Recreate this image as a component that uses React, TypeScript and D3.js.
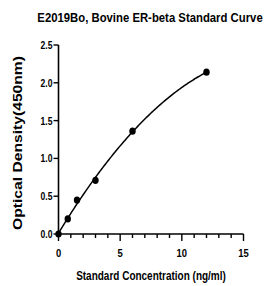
import React, { useEffect, useRef } from "react";
import * as d3 from "d3";

// standard points
const concentrations = [0, 0.75, 1.5, 3, 6, 12];
const odValues = [0, 0.2, 0.45, 0.71, 1.36, 2.14];

const xTicks = [0, 5, 10, 15];
const yTicks = [0, 0.5, 1.0, 1.5, 2.0, 2.5];

const titleText = "E2019Bo, Bovine ER-beta Standard Curve";
const xLabel = "Standard Concentration (ng/ml)";
const yLabel = "Optical Density(450nm)";

// quadratic least squares fit, used for the standard curve line
function quadFit(xs: number[], ys: number[]) {
  let s0 = 0, s1 = 0, s2 = 0, s3 = 0, s4 = 0, t0 = 0, t1 = 0, t2 = 0;
  xs.forEach((x, i) => {
    const y = ys[i];
    s0 += 1; s1 += x; s2 += x * x; s3 += x * x * x; s4 += x * x * x * x;
    t0 += y; t1 += x * y; t2 += x * x * y;
  });
  const m = [
    [s0, s1, s2, t0],
    [s1, s2, s3, t1],
    [s2, s3, s4, t2],
  ];
  for (let i = 0; i < 3; i++) {
    for (let k = i + 1; k < 3; k++) {
      const f = m[k][i] / m[i][i];
      for (let j = i; j < 4; j++) m[k][j] -= f * m[i][j];
    }
  }
  const c = [0, 0, 0];
  for (let i = 2; i >= 0; i--) {
    let s = m[i][3];
    for (let j = i + 1; j < 3; j++) s -= m[i][j] * c[j];
    c[i] = s / m[i][i];
  }
  return (x: number) => c[0] + c[1] * x + c[2] * x * x;
}

export default function App() {
  const svgRef = useRef<SVGSVGElement>(null);
  const width = 271;
  const height = 286;

  useEffect(() => {
    const svg = d3.select(svgRef.current);
    svg.selectAll("*").remove();

    const xScale = d3.scaleLinear().domain([0, 15]).range([58.5, 243.5]);
    const yScale = d3.scaleLinear().domain([0, 2.5]).range([234, 45]);

    const font = "'Liberation Sans', Arial, sans-serif";
    const g = svg.append("g");

    // title (narrowed with a horizontal scale, like the condensed original)
    g.append("text")
      .attr("transform", "translate(150,22) scale(0.84,1)")
      .attr("text-anchor", "middle")
      .attr("font-family", font)
      .attr("font-weight", "bold")
      .attr("font-size", 13.5)
      .text(titleText);

    // x axis
    const xAxis = g.append("g").attr("transform", `translate(0,${yScale(0)})`);
    xAxis.append("line")
      .attr("x1", xScale(0)).attr("x2", xScale(15))
      .attr("stroke", "#000").attr("stroke-width", 1.6);
    d3.range(0, 16).forEach((v) => {
      const major = v % 5 === 0;
      xAxis.append("line")
        .attr("x1", xScale(v)).attr("x2", xScale(v))
        .attr("y1", 0).attr("y2", major ? 7 : 4)
        .attr("stroke", "#000").attr("stroke-width", 1.4);
    });
    xTicks.forEach((v) => {
      xAxis.append("text")
        .attr("transform", `translate(${xScale(v)},23) scale(0.82,1)`)
        .attr("text-anchor", "middle")
        .attr("font-family", font)
        .attr("font-weight", "bold")
        .attr("font-size", 11.5)
        .text(v);
    });

    // y axis
    const yAxis = g.append("g").attr("transform", `translate(${xScale(0)},0)`);
    yAxis.append("line")
      .attr("y1", yScale(0)).attr("y2", yScale(2.5))
      .attr("stroke", "#000").attr("stroke-width", 1.6);
    yTicks.forEach((v) => {
      yAxis.append("line")
        .attr("x1", -5).attr("x2", 0)
        .attr("y1", yScale(v)).attr("y2", yScale(v))
        .attr("stroke", "#000").attr("stroke-width", 1.4);
      yAxis.append("text")
        .attr("transform", `translate(-6,${yScale(v) + 4}) scale(0.78,1)`)
        .attr("text-anchor", "end")
        .attr("font-family", font)
        .attr("font-weight", "bold")
        .attr("font-size", 11)
        .text(v.toFixed(1));
    });

    // axis titles
    g.append("text")
      .attr("transform", "translate(151,280) scale(0.8,1)")
      .attr("text-anchor", "middle")
      .attr("font-family", font)
      .attr("font-weight", "bold")
      .attr("font-size", 12.5)
      .text(xLabel);

    g.append("text")
      .attr("transform", "translate(22,143) rotate(-90)")
      .attr("text-anchor", "middle")
      .attr("font-family", font)
      .attr("font-weight", "bold")
      .attr("font-size", 13)
      .attr("textLength", 174)
      .attr("lengthAdjust", "spacingAndGlyphs")
      .text(yLabel);

    // fitted curve
    const fit = quadFit(concentrations, odValues);
    const curveData = d3.range(0, 12.001, 0.1).map((x) => ({ x, y: Math.max(0, fit(x)) }));
    const line = d3.line<{ x: number; y: number }>()
      .x((d) => xScale(d.x))
      .y((d) => yScale(d.y))
      .curve(d3.curveMonotoneX);
    g.append("path")
      .datum(curveData)
      .attr("fill", "none")
      .attr("stroke", "#000")
      .attr("stroke-width", 1.5)
      .attr("d", line);

    // points
    concentrations.forEach((c, i) => {
      g.append("ellipse")
        .attr("cx", xScale(c))
        .attr("cy", yScale(odValues[i]))
        .attr("rx", 3.2)
        .attr("ry", 3.6)
        .attr("fill", "#000");
    });
  }, []);

  return (
    <svg
      ref={svgRef}
      width={width}
      height={height}
      style={{ position: "absolute", left: 0, top: 0, background: "#fff" }}
    />
  );
}
